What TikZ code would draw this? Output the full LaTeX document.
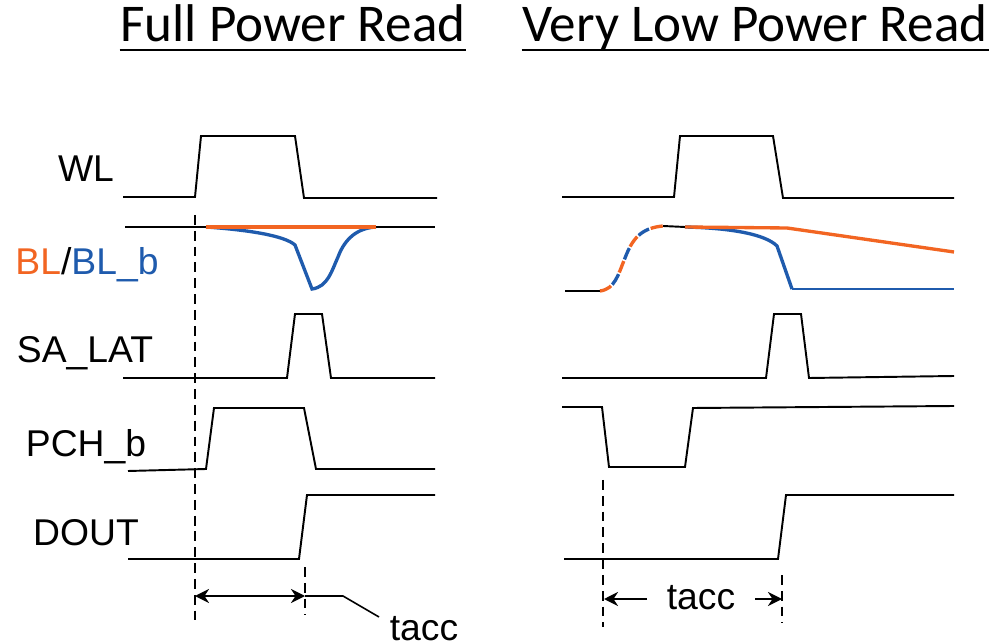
\documentclass[tikz,border=0pt]{standalone}
\usepackage{fontspec}
\setmainfont{Liberation Sans}
\newfontfamily\headfont{Carlito}
\usetikzlibrary{arrows.meta}
\definecolor{blorange}{RGB}{242,101,34}
\definecolor{blblue}{RGB}{31,91,173}

\begin{document}
\begin{tikzpicture}[x=0.01cm,y=-0.01cm,line width=0.55pt,
		lbl/.style={font=\fontsize{10.6pt}{12pt}\selectfont,anchor=base,inner sep=0pt},
		head/.style={font=\headfont\fontsize{15.1pt}{17pt}\selectfont,anchor=base,inner sep=0pt},
		bl/.style={line width=0.95pt,color=blorange},
		blb/.style={line width=0.95pt,color=blblue},
		tline/.style={line width=0.45pt,dash pattern=on 2.8pt off 1.7pt},
		tarrow/.style={line width=0.45pt,-{Stealth[length=4pt,width=4pt]}}]
		
		\useasboundingbox (0,0) rectangle (1000,643);
		
		\node[head] (fulltitle) at (293,42) {Full Power Read};
		\node[head] (lowtitle) at (755,42) {Very Low Power Read};
		\coordinate (ul) at (0,50);
		\draw[line width=0.6pt] (fulltitle.west |- ul) -- (fulltitle.east |- ul);
		\draw[line width=0.6pt] (lowtitle.west |- ul) -- (lowtitle.east |- ul);
		
		\node[lbl] (wl) at (86,182) {WL};
		\node[lbl] (bl) at (87,275) {\textcolor{blorange}{BL}/\textcolor{blblue}{BL\_b}};
		\node[lbl] (salat) at (85,363) {SA\_LAT};
		\node[lbl] (pchb) at (86,456) {PCH\_b};
		\node[lbl] (dout) at (86,545) {DOUT};
		
		% full power read
		\draw (123,197) -- (195,197) -- (201,136) -- (295,136) -- (304,198) -- (437,198);
		
		\draw (125,227) -- (435,227);
		\draw[blb] (206,227) .. controls (250,230) and (285,236) .. (295,245) -- (312,289)
		.. controls (328,287) and (332,270) .. (338,257)
		.. controls (345,238) and (358,228) .. (376,227);
		\draw[bl] (206,227) -- (376,227);
		
		\draw (123,378) -- (287,378) -- (295,314) -- (322,314) -- (331,378) -- (435,378);
		\draw (128,471) -- (206,469) -- (214,408) -- (304,408) -- (316,469) -- (435,469);
		\draw (128,559) -- (299,559) -- (307,495) -- (435,495);
		
		\draw[tline] (195,215) -- (195,620);
		\draw[tline] (305,567) -- (305,615);
		
		\coordinate (ta0) at (195,596);
		\coordinate (ta1) at (305,596);
		\draw[line width=0.45pt,{Stealth[length=4pt,width=4pt]}-{Stealth[length=4pt,width=4pt]}] (ta0) -- (ta1);
		\node[lbl] (taccfull) at (424,640) {tacc};
		\draw[line width=0.45pt] (ta1) -- (343,596) -- (379,617);
		
		% very low power read
		\draw (562,197) -- (674,197) -- (680,136) -- (773,136) -- (783,198) -- (954,198);
		
		\draw (565,291) -- (600,291);
		\draw (663,226) -- (685,227);
		\draw[blb,dash pattern=on 3.5pt off 4.5pt,dash phase=4pt] (600,291)
		.. controls (615,289) and (618,275) .. (625,258)
		.. controls (632,240) and (640,228) .. (663,226);
		\draw[bl,dash pattern=on 3.5pt off 4.5pt] (600,291)
		.. controls (615,289) and (618,275) .. (625,258)
		.. controls (632,240) and (640,228) .. (663,226);
		\draw[blb] (685,227) .. controls (730,228) and (765,234) .. (777,246) -- (792,289);
		\draw[blb,line width=0.7pt] (792,289) -- (954,289);
		\draw[bl] (685,227) -- (787,228) -- (954,252);
		
		\draw (562,378) -- (766,378) -- (774,314) -- (801,314) -- (809,378) -- (954,376);
		\draw (562,407) -- (602,407) -- (609,467) -- (685,467) -- (693,408) -- (954,406);
		\draw (564,559) -- (778,559) -- (786,495) -- (954,495);
		
		\draw[tline] (603,480) -- (603,627);
		\draw[tline] (782,575) -- (782,623);
		
		\coordinate (tb0) at (604,599);
		\coordinate (tb1) at (782,599);
		\node[lbl] (tacclow) at (701,609) {tacc};
		\draw[tarrow] (647,599) -- (tb0);
		\draw[tarrow] (755,599) -- (tb1);
		
	\end{tikzpicture}
\end{document}
